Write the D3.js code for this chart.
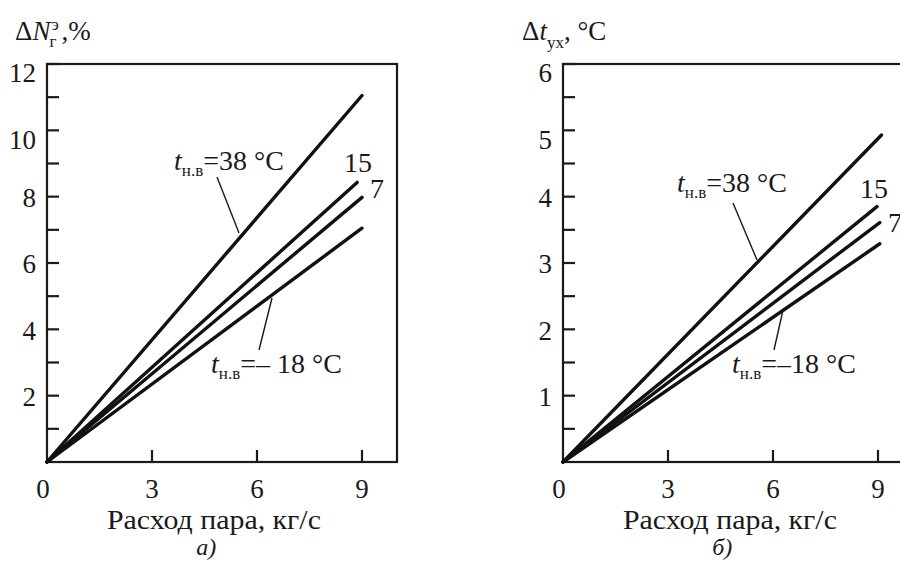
<!DOCTYPE html>
<html><head><meta charset="utf-8">
<script src="https://cdn.jsdelivr.net/npm/d3@7"></script>
<style>
html,body{margin:0;padding:0;background:#fff;}
</style></head>
<body><svg id="c" width="900" height="562"></svg>
<script>
// ---- data ----
const xTicks = [0, 3, 6, 9];
const leftYTicksLabeled = [2, 4, 6, 8, 10, 12];
const leftYTicksMinor = [1, 3, 5, 7, 9, 11];
const rightYTicksLabeled = [1, 2, 3, 4, 5, 6];
const rightYTicksMinor = [0.5, 1.5, 2.5, 3.5, 4.5, 5.5];
const seriesNames = ["38", "15", "7", "-18"];
const leftX = [[0, 9], [0, 8.86], [0, 9], [0, 9]];
const leftY = [[0, 11.05], [0, 8.43], [0, 7.98], [0, 7.05]];
const rightX = [[0, 9.1], [0, 8.97], [0, 9.05], [0, 9.05]];
const rightY = [[0, 4.93], [0, 3.85], [0, 3.61], [0, 3.29]];
const xTitle = "Расход пара, кг/с";

const FONT = '"Liberation Serif", "Times New Roman", serif';
const svg = d3.select("#c").style("font-family", FONT);
const FS = 27;
const FA = 28;
const INK = "#1a1a1a";

function txt(g, x, y, size) {
  return g.append("text").attr("x", x).attr("y", y).attr("font-size", size)
    .style("font-family", FONT).attr("fill", INK);
}

function panel(opts) {
  const g = svg.append("g");
  const x = d3.scaleLinear().domain([0, 10]).range([opts.left, opts.left + 350]);
  const y = d3.scaleLinear().domain([0, opts.ymax]).range([462, 64]);
  g.append("rect").attr("x", x(0)).attr("y", y(opts.ymax)).attr("width", x(10) - x(0))
    .attr("height", y(0) - y(opts.ymax)).attr("fill", "none").attr("stroke", INK).attr("stroke-width", 2.2);
  const allY = opts.labeled.concat(opts.minor);
  g.selectAll(".yt").data(allY).enter().append("line")
    .attr("x1", x(0)).attr("x2", x(0) + 12).attr("y1", d => y(d)).attr("y2", d => y(d))
    .attr("stroke", INK).attr("stroke-width", 2.2);
  opts.labeled.forEach(d => {
    txt(g, x(0) - 11, y(d) + (d >= opts.ymax * 5 / 6 ? 9 : 1), FS).attr("dy", "0.35em")
      .attr("text-anchor", "end").text(d);
  });
  g.selectAll(".xt").data(xTicks.filter(d => d > 0)).enter().append("line")
    .attr("x1", d => x(d)).attr("x2", d => x(d)).attr("y1", y(0)).attr("y2", y(0) - 12)
    .attr("stroke", INK).attr("stroke-width", 2.2);
  xTicks.forEach(d => {
    txt(g, x(d) - (d === 0 ? 4 : 0), 498, FS).attr("text-anchor", "middle").text(d);
  });
  txt(g, x(4.77), 529, FS).attr("text-anchor", "middle")
    .attr("textLength", 214).attr("lengthAdjust", "spacingAndGlyphs").text(xTitle);
  txt(g, x(4.55), 555, 24).attr("text-anchor", "middle").attr("font-style", "italic").text(opts.sub);
  const line = d3.line().x(d => x(d[0])).y(d => y(d[1]));
  seriesNames.forEach((n, i) => {
    const pts = opts.xs[i].map((v, k) => [v, opts.ys[i][k]]);
    g.append("path").attr("d", line(pts)).attr("fill", "none").attr("stroke", "#111")
      .attr("stroke-width", 3.4).attr("stroke-linecap", "round");
  });
  return {g, x, y};
}

function tLabel(g, x0, yb, rest) {
  const t = txt(g, x0, yb, FA);
  t.append("tspan").attr("font-style", "italic").text("t");
  t.append("tspan").attr("font-size", 17).attr("dy", 6).text("н.в");
  t.append("tspan").attr("dy", -6).text(rest);
}
function leader(g, x1, y1, x2, y2) {
  g.append("line").attr("x1", x1).attr("y1", y1).attr("x2", x2).attr("y2", y2)
    .attr("stroke", INK).attr("stroke-width", 1.4);
}

const L = panel({left: 47, ymax: 12, labeled: leftYTicksLabeled, minor: leftYTicksMinor, xs: leftX, ys: leftY, sub: "а)"});
const R = panel({left: 563, ymax: 6, labeled: rightYTicksLabeled, minor: rightYTicksMinor, xs: rightX, ys: rightY, sub: "б)"});

tLabel(L.g, 174, 170, "=38 °C");
leader(L.g, 217, 177, 239, 233);
txt(L.g, 344, 172, FA).text("15");
txt(L.g, 370, 198, FA).text("7");
tLabel(L.g, 211, 373, "=– 18 °C");
leader(L.g, 259, 350, 272, 298);

tLabel(R.g, 677, 192, "=38 °C");
leader(R.g, 733, 203, 757, 260);
txt(R.g, 860, 198, FA).text("15");
txt(R.g, 888, 232, FA).text("7");
tLabel(R.g, 732, 373, "=–18 °C");
leader(R.g, 774, 350, 783, 310);

const t1 = txt(svg, 15, 40, FS);
t1.append("tspan").text("Δ");
t1.append("tspan").attr("font-style", "italic").text("N");
const w1 = t1.node().getComputedTextLength();
txt(svg, 15 + w1 + 1, 30, 17).text("э");
txt(svg, 15 + w1 - 1, 47, 17).text("г");
txt(svg, 15 + w1 + 11, 40, FS).text(",%");

const t2 = txt(svg, 522, 40, FS);
t2.append("tspan").text("Δ");
t2.append("tspan").attr("font-style", "italic").text("t");
t2.append("tspan").attr("font-size", 17).attr("dy", 8).text("ух");
t2.append("tspan").attr("dy", -8).text(",  °C");
</script></body></html>
